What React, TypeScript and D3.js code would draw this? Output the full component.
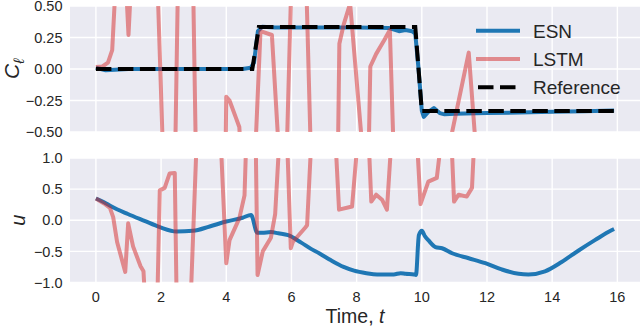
import { useEffect, useRef } from 'react';
import * as d3 from 'd3';

// reference lift coefficient (step target)
const refT = [0, 4.8, 5.0, 9.8, 10.0, 15.9];
const refCl = [0, 0, 0.333, 0.333, -0.333, -0.333];

// ESN lift coefficient
const esnClT = [0, 0.15, 0.3, 1, 2, 3, 4, 4.5, 4.75, 4.85, 4.97, 5.1, 5.5, 6, 7, 8, 9, 9.3, 9.5, 9.7, 9.8, 9.9, 10.0, 10.06, 10.2, 10.37, 10.55, 10.7, 11, 12, 13, 14, 15, 15.9];
const esnCl = [0.01, 0, -0.01, 0, 0, 0, 0, 0, 0.01, 0.05, 0.3, 0.335, 0.33, 0.33, 0.33, 0.33, 0.325, 0.3, 0.31, 0.3, 0.28, 0.0, -0.33, -0.38, -0.34, -0.31, -0.35, -0.36, -0.355, -0.35, -0.345, -0.34, -0.335, -0.33];

// LSTM lift coefficient (goes off scale)
const lstmClT = [0, 0.2, 0.37, 0.5, 0.65, 0.88, 1.0, 1.12, 1.85, 2.1, 2.4, 2.55, 2.95, 3.1, 3.95, 4.0, 4.1, 4.3, 4.4, 4.5, 4.85, 5.05, 5.4, 5.6, 5.8, 6.05, 6.4, 6.65, 7.4, 7.47, 7.6, 7.8, 8.2, 8.36, 8.42, 8.6, 8.85, 9.02, 9.14, 10.85, 11.44, 11.65, 11.8];
const lstmCl = [0.015, 0.02, 0.05, 0.15, 0.9, 0.9, 0.27, 0.9, 1.0, -1.0, -1.2, 1.2, 1.2, -1.2, -1.2, -0.22, -0.25, -0.39, -0.46, -0.9, -0.9, 0.3, 0.27, -0.6, -1.2, 1.2, 1.2, -1.2, -1.2, 0.2, 0.35, 0.52, -0.7, -0.8, 0.02, 0.12, 0.23, 0.31, -0.7, -0.6, 0.13, -0.6, -1.2];

// ESN control input
const esnUT = [0, 0.25, 0.48, 0.98, 1.49, 1.96, 2.47, 2.98, 3.49, 4.0, 4.5, 4.76, 4.95, 5.1, 5.37, 5.6, 5.9, 6.3, 6.6, 6.85, 7.2, 7.6, 7.92, 8.3, 8.63, 9.14, 9.35, 9.5, 9.76, 9.82, 9.91, 10.0, 10.1, 10.2, 10.42, 10.62, 10.93, 11.44, 11.95, 12.45, 12.97, 13.27, 13.78, 14.29, 14.8, 15.31, 15.82, 15.9];
const esnU = [0.35, 0.29, 0.22, 0.1, -0.01, -0.11, -0.18, -0.17, -0.1, -0.02, 0.04, 0.085, -0.2, -0.2, -0.19, -0.21, -0.24, -0.36, -0.46, -0.53, -0.64, -0.75, -0.81, -0.85, -0.87, -0.87, -0.85, -0.86, -0.87, -0.88, -0.24, -0.17, -0.26, -0.32, -0.43, -0.45, -0.53, -0.61, -0.69, -0.79, -0.86, -0.87, -0.82, -0.67, -0.49, -0.32, -0.16, -0.14];

// LSTM control input
const lstmUT = [0, 0.25, 0.43, 0.53, 0.65, 0.9, 0.99, 1.14, 1.37, 1.46, 1.52, 1.88, 1.96, 2.11, 2.26, 2.42, 2.48, 2.9, 3.1, 3.82, 4.0, 4.1, 4.4, 4.56, 4.62, 4.9, 4.96, 5.12, 5.37, 5.5, 5.64, 5.86, 5.98, 6.04, 6.42, 6.48, 6.62, 7.34, 7.46, 7.86, 8.05, 8.36, 8.45, 8.6, 8.78, 8.93, 9.08, 9.84, 9.96, 10.2, 10.46, 10.62, 10.9, 10.99, 11.13, 11.38, 11.54, 11.62];
const lstmU = [0.35, 0.27, 0.2, 0.05, -0.35, -0.83, -0.05, -0.42, -0.74, -0.82, -1.4, -1.4, 0.48, 0.52, 0.75, 0.76, -1.4, -1.4, 1.4, 1.4, -0.69, -0.32, 0.03, 0.4, 1.4, 1.4, -0.88, -0.5, -0.28, 0.1, 1.4, 1.4, -0.45, -0.35, -0.12, -0.08, 1.4, 1.4, 0.17, 0.22, 1.4, 1.4, 0.3, 0.41, 0.33, 0.17, 1.4, 1.4, 0.26, 0.62, 0.68, 1.4, 1.4, 0.3, 0.41, 0.38, 0.52, 1.4];

const xTicks = [0, 2, 4, 6, 8, 10, 12, 14, 16];
const clTicks = [0.5, 0.25, 0, -0.25, -0.5];
const uTicks = [1, 0.5, 0, -0.5, -1];

const legendItems = ['ESN', 'LSTM', 'Reference'];

const ESN_COLOR = '#1f77b4';
const LSTM_COLOR = '#d62728';
const FONT = '"Liberation Sans", Arial, sans-serif';

const zip = (t: number[], v: number[]) => t.map((x, i) => [x, v[i]] as [number, number]);
const minus = (s: string) => s.replace('-', '\u2212');

function App() {
  const svgRef = useRef<SVGSVGElement>(null);

  useEffect(() => {
    if (!svgRef.current) return;
    const svg = d3.select(svgRef.current);
    svg.selectAll('*').remove();

    const width = 640;
    const height = 326;
    const left = 70;
    const right = 640;

    svg.attr('width', width).attr('height', height);

    const x = d3.scaleLinear().domain([-0.795, 16.695]).range([left, right]);

    const panels = [
      { id: 'cl', top: 6, bottom: 132, domain: [-0.5, 0.5], ticks: clTicks, fmt: d3.format('.2f') },
      { id: 'u', top: 158, bottom: 282.5, domain: [-1, 1], ticks: uTicks, fmt: d3.format('.1f') },
    ];

    const scales: Record<string, d3.ScaleLinear<number, number>> = {};

    panels.forEach(p => {
      const y = d3.scaleLinear().domain(p.domain).range([p.bottom, p.top]);
      scales[p.id] = y;

      svg.append('rect')
        .attr('x', left).attr('y', p.top)
        .attr('width', right - left).attr('height', p.bottom - p.top)
        .attr('fill', '#eaeaf2');

      svg.append('clipPath').attr('id', `clip-${p.id}`)
        .append('rect')
        .attr('x', left).attr('y', p.top)
        .attr('width', right - left).attr('height', p.bottom - p.top);

      // grid
      svg.append('g').selectAll('line').data(xTicks).join('line')
        .attr('x1', d => x(d)).attr('x2', d => x(d))
        .attr('y1', p.top).attr('y2', p.bottom)
        .attr('stroke', 'white').attr('stroke-width', 1.4);
      svg.append('g').selectAll('line').data(p.ticks).join('line')
        .attr('x1', left).attr('x2', right)
        .attr('y1', d => y(d)).attr('y2', d => y(d))
        .attr('stroke', 'white').attr('stroke-width', 1.4);

      // y tick labels
      svg.append('g').selectAll('text').data(p.ticks).join('text')
        .attr('x', 62.5).attr('y', d => y(d))
        .attr('dy', '0.36em')
        .attr('text-anchor', 'end')
        .attr('fill', '#262626')
        .style('font-family', FONT)
        .style('font-size', '14.5px')
        .text(d => minus(p.fmt(d)));
    });

    const yCl = scales.cl;
    const yU = scales.u;

    const lineCl = d3.line<[number, number]>().x(d => x(d[0])).y(d => yCl(d[1]));
    const lineU = d3.line<[number, number]>().x(d => x(d[0])).y(d => yU(d[1]));
    const smoothU = d3.line<[number, number]>().x(d => x(d[0])).y(d => yU(d[1])).curve(d3.curveMonotoneX);

    // top panel
    const gCl = svg.append('g').attr('clip-path', 'url(#clip-cl)');
    gCl.append('path').attr('d', lineCl(zip(esnClT, esnCl)))
      .attr('fill', 'none').attr('stroke', ESN_COLOR).attr('stroke-width', 4).attr('stroke-linejoin', 'round');
    gCl.append('path').attr('d', lineCl(zip(lstmClT, lstmCl)))
      .attr('fill', 'none').attr('stroke', LSTM_COLOR).attr('stroke-opacity', 0.5).attr('stroke-width', 4).attr('stroke-linejoin', 'round');
    gCl.append('path').attr('d', lineCl(zip(refT, refCl)))
      .attr('fill', 'none').attr('stroke', 'black').attr('stroke-width', 4)
      .attr('stroke-dasharray', '15.5 6.5');

    // bottom panel
    const gU = svg.append('g').attr('clip-path', 'url(#clip-u)');
    gU.append('path').attr('d', smoothU(zip(esnUT, esnU)))
      .attr('fill', 'none').attr('stroke', ESN_COLOR).attr('stroke-width', 4).attr('stroke-linejoin', 'round');
    gU.append('path').attr('d', lineU(zip(lstmUT, lstmU)))
      .attr('fill', 'none').attr('stroke', LSTM_COLOR).attr('stroke-opacity', 0.5).attr('stroke-width', 4).attr('stroke-linejoin', 'round');

    // x tick labels (bottom only)
    svg.append('g').selectAll('text').data(xTicks).join('text')
      .attr('x', d => x(d)).attr('y', 302)
      .attr('text-anchor', 'middle')
      .attr('fill', '#262626')
      .style('font-family', FONT)
      .style('font-size', '14.5px')
      .text(d => d);

    // axis labels
    const xl = svg.append('text')
      .attr('x', (left + right) / 2).attr('y', 323)
      .attr('text-anchor', 'middle')
      .attr('fill', '#262626')
      .style('font-family', FONT)
      .style('font-size', '19.5px');
    xl.append('tspan').text('Time, ');
    xl.append('tspan').style('font-style', 'italic').text('t');

    const yl1 = svg.append('text')
      .attr('transform', `translate(19, ${(6 + 132) / 2}) rotate(-90)`)
      .attr('text-anchor', 'middle')
      .attr('fill', '#262626')
      .style('font-family', FONT)
      .style('font-size', '21px');
    yl1.append('tspan').style('font-style', 'italic').text('C');
    yl1.append('tspan').attr('dy', 5).style('font-size', '15px').style('font-style', 'italic').text('\u2113');

    svg.append('text')
      .attr('transform', `translate(25, ${(158 + 282.5) / 2}) rotate(-90)`)
      .attr('text-anchor', 'middle')
      .attr('fill', '#262626')
      .style('font-family', FONT)
      .style('font-size', '20px')
      .style('font-style', 'italic')
      .text('u');

    // legend
    const legendY = [30.7, 59, 87.3];
    legendItems.forEach((name, i) => {
      const ly = legendY[i];
      const l = svg.append('line')
        .attr('x1', 478).attr('x2', 518)
        .attr('y1', ly).attr('y2', ly)
        .attr('stroke-width', 4);
      if (name === 'ESN') l.attr('stroke', ESN_COLOR).attr('stroke-linecap', 'square');
      if (name === 'LSTM') l.attr('stroke', LSTM_COLOR).attr('stroke-opacity', 0.5).attr('stroke-linecap', 'square');
      if (name === 'Reference') l.attr('stroke', 'black').attr('stroke-dasharray', '15.5 6.5');
      svg.append('text')
        .attr('x', 533).attr('y', ly)
        .attr('dy', '0.36em')
        .attr('fill', '#262626')
        .style('font-family', FONT)
        .style('font-size', '19px')
        .text(name);
    });
  }, []);

  return (
    <div style={{ position: 'absolute', left: 0, top: 0, width: 640, height: 326, background: 'white' }}>
      <svg ref={svgRef} style={{ display: 'block' }}></svg>
    </div>
  );
}

export default App;
